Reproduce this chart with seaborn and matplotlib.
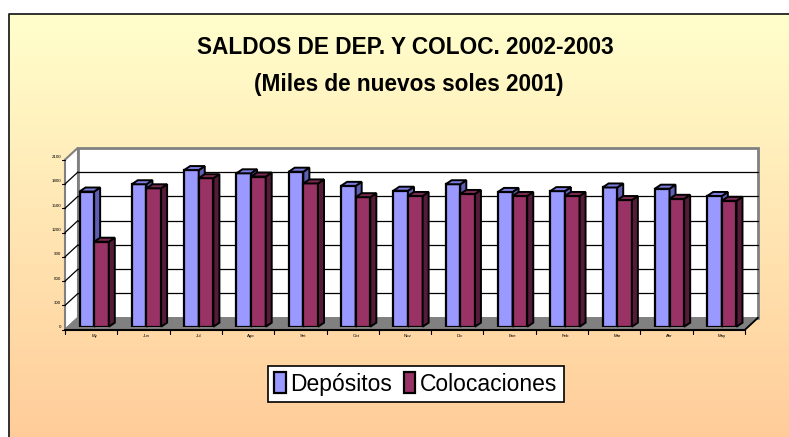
import numpy as np
import pandas as pd
import matplotlib
matplotlib.use("Agg")
import matplotlib.pyplot as plt
import matplotlib.transforms as mtransforms
from matplotlib.colors import LinearSegmentedColormap
from matplotlib.patches import Polygon, Rectangle, Patch
import seaborn as sns

# datos (miles de nuevos soles 2001)
meses = ['My', 'Jun', 'Jul', 'Ago', 'Set', 'Oct', 'Nov', 'Dic', 'Ene', 'Feb', 'Mar', 'Abr', 'May']
depositos = [1670, 1760, 1935, 1895, 1915, 1740, 1680, 1760, 1665, 1675, 1720, 1705, 1615]
colocaciones = [1050, 1710, 1835, 1855, 1770, 1600, 1615, 1640, 1615, 1615, 1565, 1580, 1555]
series = ['Depósitos', 'Colocaciones']
yticks = [0, 300, 600, 900, 1200, 1500, 1800, 2100]

colores = {'Depósitos': '#9999FF', 'Colocaciones': '#993366'}
cara_sup = {'Depósitos': '#7B7BDD', 'Colocaciones': '#7A2952'}
cara_lat = {'Depósitos': '#5E5EB4', 'Colocaciones': '#551C3A'}

df = pd.DataFrame({
    'Mes': meses * 2,
    'Serie': [series[0]] * len(meses) + [series[1]] * len(meses),
    'Valor': depositos + colocaciones,
})

sns.set_theme(style='white')
plt.rcParams['font.family'] = ['Liberation Sans', 'DejaVu Sans']
plt.rcParams['text.color'] = 'black'

W, H = 789, 437
fig = plt.figure(figsize=(W / 100, H / 100), dpi=100)
fig.patch.set_facecolor('white')

# fondo degradado amarillo -> durazno
bg = fig.add_axes([0, 0, 1, 1], zorder=-10)
bg.set_xlim(0, 1)
bg.set_ylim(0, 1)
bg.axis('off')
cmap = LinearSegmentedColormap.from_list('fondo', ['#FFFFCC', '#FFCC99'])
grad = np.linspace(0, 1, 256).reshape(-1, 1)
bx, by = 9 / W, 1 - 14 / H
bg.imshow(grad, cmap=cmap, aspect='auto', extent=[bx, 1.01, -0.01, by], origin='upper')
bg.plot([bx, bx, 1.01], [-0.01, by, by], color='#222222', lw=1.3)

# titulo
fig.text(0.514, 1 - 47 / H, 'SALDOS DE DEP. Y COLOC. 2002-2003', ha='center', va='center',
         fontsize=16.3, fontweight='bold', color='black')
fig.text(0.518, 1 - 84 / H, '(Miles de nuevos soles 2001)', ha='center', va='center',
         fontsize=16.3, fontweight='bold', color='black')

# ejes (plano frontal de las barras)
ax = fig.add_axes([68 / W, 1 - 326.7 / H, 680 / W, 170 / H])
ax.patch.set_alpha(0)
sns.barplot(data=df, x='Mes', y='Valor', hue='Serie', palette=colores, width=0.56,
            saturation=1, edgecolor='black', linewidth=1.6, legend=False, ax=ax)
ax.set_xlim(-0.5, len(meses) - 0.5)
ax.set_ylim(0, 2100)
ax.set_xlabel('')
ax.set_ylabel('')
for s in ax.spines.values():
    s.set_visible(False)
ax.set_yticks(yticks)
ax.set_yticklabels([str(v) for v in yticks])
ax.tick_params(axis='y', length=0, pad=5, labelsize=3.2, labelcolor='black')
ax.tick_params(axis='x', length=0, pad=5, labelsize=3.2, labelcolor='black')

# paredes y piso en perspectiva
frente = mtransforms.offset_copy(ax.transData, fig=fig, x=-3, y=-3, units='dots')
fondo = mtransforms.offset_copy(ax.transData, fig=fig, x=10, y=9, units='dots')
xa, xb = -0.5, len(meses) - 0.5
ymax = yticks[-1]
ident = mtransforms.IdentityTransform()

ax.add_patch(Rectangle((xa, 0), xb - xa, ymax, transform=fondo, facecolor='white',
                       edgecolor='#808080', lw=2, zorder=0.5, clip_on=False))
disp = lambda tr, pts: tr.transform(pts)
pared = np.vstack([disp(frente, [(xa, 0), (xa, ymax)]), disp(fondo, [(xa, ymax), (xa, 0)])])
ax.add_patch(Polygon(pared, transform=ident, facecolor='white',
                     edgecolor='#808080', lw=1.5, zorder=0.6, clip_on=False))
piso = np.vstack([disp(frente, [(xa, 0), (xb, 0)]), disp(fondo, [(xb, 0), (xa, 0)])])
ax.add_patch(Polygon(piso, transform=ident, facecolor='#808080',
                     edgecolor='#808080', lw=1, zorder=0.7, clip_on=False))
for v in yticks[1:-1]:
    ax.plot([xa, xb], [v, v], transform=fondo, color='black', lw=0.9, zorder=0.8, clip_on=False)
    p = np.vstack([disp(frente, [(xa, v)]), disp(fondo, [(xa, v)])])
    ax.plot(p[:, 0], p[:, 1], transform=ident, color='black', lw=0.9, zorder=0.8, clip_on=False)
for v in yticks:
    p = disp(frente, [(xa, v)])[0]
    ax.plot([p[0] - 3, p[0]], [p[1], p[1]], transform=ident,
            color='black', lw=0.8, zorder=0.8, clip_on=False)

# borde frontal del piso con marcas
ax.plot([xa, xb], [0, 0], transform=frente, color='black', lw=1.5, zorder=5, clip_on=False)
for i in range(len(meses) + 1):
    p = disp(frente, [(xa + i, 0)])[0]
    ax.plot([p[0], p[0]], [p[1], p[1] - 4], transform=ident,
            color='black', lw=0.8, zorder=5, clip_on=False)
p = np.vstack([disp(frente, [(xb, 0)]), disp(fondo, [(xb, 0)])])
ax.plot(p[:, 0], p[:, 1], transform=ident, color='black', lw=1.3, zorder=5, clip_on=False)

# caras superiores y laterales de las barras
dx, dy = 6, 4
for k, serie in enumerate(series):
    z = 3 + k
    for bar in ax.containers[k]:
        bar.set_zorder(z)
        x0 = bar.get_x()
        x1 = x0 + bar.get_width()
        h = bar.get_height()
        p0, p1, p2 = ax.transData.transform([(x0, h), (x1, h), (x1, 0)])
        d = np.array([dx, dy])
        top = [p0, p1, p1 + d, p0 + d]
        side = [p1, p2, p2 + d, p1 + d]
        ax.add_patch(Polygon(side, transform=ident, facecolor=cara_lat[serie],
                             edgecolor='black', lw=1.4, zorder=z + 0.5, clip_on=False))
        ax.add_patch(Polygon(top, transform=ident, facecolor=cara_sup[serie],
                             edgecolor='black', lw=1.4, zorder=z + 0.5, clip_on=False))

# leyenda
handles = [Patch(facecolor=colores[s], edgecolor='black', lw=1.6) for s in series]
leg = fig.legend(handles, series, loc='center', bbox_to_anchor=(0.527, 1 - 384 / H), ncol=2,
                 frameon=True, fancybox=False, framealpha=1, edgecolor='black',
                 fontsize=16.5, handlelength=0.5, handleheight=1.0, handletextpad=0.2,
                 columnspacing=0.5, borderpad=0.3)
leg.get_frame().set_linewidth(1.2)
for t in leg.get_texts():
    t.set_color('black')

fig.savefig('out.png', dpi=100)
